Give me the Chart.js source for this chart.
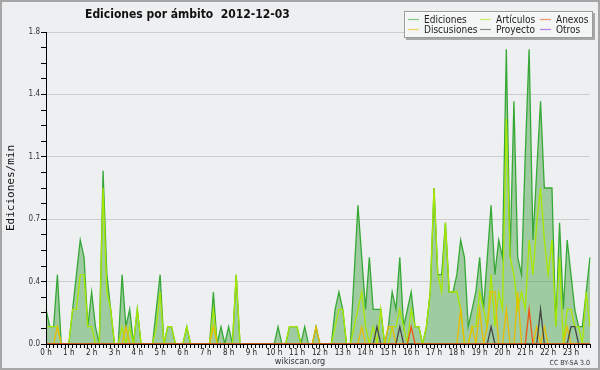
<!DOCTYPE html>
<html>
<head>
<meta charset="utf-8">
<script src="https://cdn.jsdelivr.net/npm/chart.js@4.4.1/dist/chart.umd.min.js"></script>
<style>
  html, body { margin: 0; padding: 0; background: #eeeff1; }
  #wrap { width: 600px; height: 370px; }
</style>
</head>
<body>
<div id="wrap"><canvas id="edChart" width="600" height="370"></canvas></div>
<script>
// hour tick labels, one slot every 10 minutes
const hourLabels = ['0 h','1 h','2 h','3 h','4 h','5 h','6 h','7 h','8 h','9 h','10 h','11 h',
  '12 h','13 h','14 h','15 h','16 h','17 h','18 h','19 h','20 h','21 h','22 h','23 h'];
const slotMinutes = ['00','10','20','30','40','50'];
const slots = [];
hourLabels.forEach((h, i) => slotMinutes.forEach(m => slots.push(i + ':' + m)));

const yTicks = [0, 0.09, 0.18, 0.27, 0.36, 0.45, 0.54, 0.63, 0.72, 0.81, 0.9,
  0.99, 1.08, 1.17, 1.26, 1.35, 1.44, 1.53, 1.62, 1.71, 1.8];

// edits per minute
const ediciones = [
  0.2,0.1,0.1,0.4,0,0, 0,0.2,0.4,0.6,0.5,0.1,
  0.3,0.1,0,1.0,0.4,0.2, 0,0,0.4,0.1,0.2,0,
  0.2,0,0,0,0,0.2, 0.4,0,0.1,0.1,0,0,
  0,0.1,0,0,0,0, 0,0,0.3,0,0.1,0,
  0.1,0,0.4,0,0,0, 0,0,0,0,0,0,
  0,0.1,0,0,0.1,0.1, 0.1,0,0.1,0,0,0.1,
  0,0,0,0,0.2,0.3, 0.2,0,0,0.4,0.8,0.5,
  0.2,0.5,0.2,0.2,0.2,0, 0.1,0.3,0.2,0.5,0.1,0.2,
  0.3,0.1,0.1,0,0.1,0.3, 0.9,0.4,0.4,0.7,0.3,0.3,
  0.4,0.6,0.5,0.1,0.2,0.3, 0.5,0.2,0.5,0.8,0.4,0.6,
  0.5,1.7,0.5,1.4,0.5,0.4, 1.1,1.7,0.6,1.0,1.4,0.9,
  0.9,0.9,0.1,0.7,0.2,0.6, 0.4,0.2,0.1,0.1,0.3,0.5
];
const articulos = [
  0.1,0.1,0.1,0.1,0,0, 0,0.2,0.2,0.4,0.4,0.1,
  0.1,0,0,0.9,0.3,0.2, 0,0,0.1,0,0.1,0,
  0.2,0,0,0,0,0.1, 0.3,0,0.1,0.1,0,0,
  0,0.1,0,0,0,0, 0,0,0.2,0,0,0,
  0,0,0.4,0,0,0, 0,0,0,0,0,0,
  0,0,0,0,0.1,0.1, 0.1,0,0,0,0,0,
  0,0,0,0,0.1,0.2, 0.2,0,0,0.1,0.2,0.3,
  0.1,0,0.1,0,0.2,0, 0,0.1,0.1,0.2,0.1,0,
  0.2,0.1,0.1,0,0.1,0.3, 0.9,0.4,0.3,0.7,0.3,0.3,
  0.3,0.2,0,0,0.1,0.1, 0.3,0.2,0.1,0.4,0.1,0.3,
  0.2,1.3,0.5,0.4,0.2,0.3, 0.2,0.6,0.4,0.7,0.9,0.6,
  0.4,0.6,0.1,0.5,0,0.2, 0.2,0.1,0.1,0,0.3,0.1
];
const anexos = [
  0,0,0,0,0,0, 0,0,0,0,0,0,
  0,0,0,0,0,0, 0,0,0,0,0,0,
  0,0,0,0,0,0, 0,0,0,0,0,0,
  0,0,0,0,0,0, 0,0,0,0,0,0,
  0,0,0,0,0,0, 0,0,0,0,0,0,
  0,0,0,0,0,0, 0,0,0,0,0,0,
  0,0,0,0,0,0, 0,0,0,0,0,0,
  0,0,0,0,0,0, 0,0,0,0,0,0,
  0.1,0,0,0,0,0, 0,0,0,0,0,0,
  0,0,0,0,0,0, 0,0,0,0,0,0,
  0,0,0,0,0,0, 0,0.2,0,0,0,0,
  0,0,0,0,0,0, 0,0,0,0,0,0
];
const discusiones = [
  0,0,0,0.1,0,0, 0,0,0,0,0,0,
  0,0,0,0,0,0, 0,0,0,0.1,0,0,
  0,0,0,0,0,0, 0,0,0,0,0,0,
  0,0,0,0,0,0, 0,0,0.1,0,0,0,
  0,0,0,0,0,0, 0,0,0,0,0,0,
  0,0,0,0,0,0, 0,0,0,0,0,0.1,
  0,0,0,0,0,0, 0,0,0,0,0,0.1,
  0,0,0,0,0,0, 0.1,0.1,0,0,0,0,
  0,0,0,0,0,0, 0,0,0,0,0,0,
  0,0.2,0,0,0.1,0, 0.2,0,0.1,0.3,0.3,0,
  0,0.2,0,0,0.3,0, 0,0,0,0.1,0,0.1,
  0,0,0,0,0,0.1, 0,0,0,0,0,0
];
const proyecto = [
  0,0,0,0,0,0, 0,0,0,0,0,0,
  0,0,0,0,0,0, 0,0,0,0,0,0,
  0,0,0,0,0,0, 0,0,0,0,0,0,
  0,0,0,0,0,0, 0,0,0,0,0,0,
  0,0,0,0,0,0, 0,0,0,0,0,0,
  0,0,0,0,0,0, 0,0,0,0,0,0,
  0,0,0,0,0,0, 0,0,0,0,0,0,
  0,0,0,0.1,0,0, 0,0,0,0.1,0,0,
  0,0,0,0,0,0, 0,0,0,0,0,0,
  0,0,0,0,0,0, 0,0,0,0.1,0,0,
  0,0,0,0,0,0, 0,0,0,0,0.2,0,
  0,0,0,0,0,0, 0.1,0.1,0,0,0,0
];
const otros = [
  0,0,0,0,0,0, 0,0,0,0,0,0,
  0,0,0,0,0,0, 0,0,0,0,0,0,
  0,0,0,0,0,0, 0,0,0,0,0,0,
  0,0,0,0,0,0, 0,0,0,0,0,0,
  0,0,0,0,0,0, 0,0,0,0,0,0,
  0,0,0,0,0,0, 0,0,0,0,0,0,
  0,0,0,0,0,0, 0,0,0,0,0,0,
  0,0,0,0,0,0, 0,0,0,0,0,0,
  0,0,0,0,0,0, 0,0,0,0,0,0,
  0,0,0,0,0,0, 0,0,0,0,0,0,
  0,0,0,0,0,0, 0,0,0,0,0,0,
  0,0,0,0,0,0, 0,0,0,0,0,0
];

const BG = '#eeeff1';
const COND = '"DejaVu Sans Condensed", "DejaVu Sans", sans-serif';

// ---------------- extra drawing: title, credits, legend ----------------
const decor = {
  id: 'decor',
  beforeDraw(chart) {
    const c = chart.ctx;
    c.save();
    c.fillStyle = BG;
    c.fillRect(0, 0, chart.width, chart.height);
    c.restore();
  },
  afterDraw(chart) {
    const c = chart.ctx;
    c.save();
    // title
    c.fillStyle = '#111';
    c.font = 'bold 12px ' + COND;
    c.textBaseline = 'alphabetic';
    c.fillText('Ediciones por ámbito  2012-12-03', 85, 18);
    // footer
    c.font = '9px ' + COND;
    c.fillStyle = '#333';
    c.textAlign = 'center';
    c.fillText('wikiscan.org', 300, 364);
    c.font = '7px ' + COND;
    c.textAlign = 'right';
    c.fillText('CC BY-SA 3.0', 590, 365);

    // legend box
    c.fillStyle = 'rgba(110,110,110,0.55)';
    c.fillRect(406, 13, 189, 27);
    c.fillStyle = 'rgba(255,255,255,0.88)';
    c.fillRect(404, 11, 189, 27);
    c.strokeStyle = '#9a9a9a';
    c.lineWidth = 1;
    c.strokeRect(404.5, 11.5, 188, 26);
    const spots = [[408, 19], [480, 19], [540, 19], [408, 29], [480, 29], [540, 29]];
    c.textAlign = 'left';
    c.textBaseline = 'middle';
    c.font = '10px ' + COND;
    chart.data.datasets.forEach((ds, i) => {
      const [x, y] = spots[i];
      c.globalAlpha = 0.6;
      c.strokeStyle = ds.borderColor;
      c.lineWidth = 1.2;
      c.beginPath();
      c.moveTo(x, y + 0.5);
      c.lineTo(x + 11, y + 0.5);
      c.stroke();
      c.globalAlpha = 1;
      c.fillStyle = '#222';
      c.fillText(ds.label, x + 16, y + 1);
    });
    // frame
    c.strokeStyle = '#a6a6a6';
    c.lineWidth = 2;
    c.strokeRect(1, 1, chart.width - 2, chart.height - 2);
    c.restore();
  }
};

const ctx = document.getElementById('edChart');

new Chart(ctx, {
  type: 'line',
  data: {
    labels: slots,
    datasets: [
      { label: 'Ediciones', data: ediciones, borderColor: '#36a836',
        backgroundColor: 'rgba(60,160,60,0.45)', fill: 'origin', order: 6 },
      { label: 'Artículos', data: articulos, borderColor: '#a8e800', fill: false, order: 5 },
      { label: 'Anexos', data: anexos, borderColor: '#ee5511', fill: false, order: 2 },
      { label: 'Discusiones', data: discusiones, borderColor: '#e8bc00', fill: false, order: 4 },
      { label: 'Proyecto', data: proyecto, borderColor: '#444444', fill: false, order: 3 },
      { label: 'Otros', data: otros, borderColor: '#8833dd', fill: false, order: 7 }
    ]
  },
  options: {
    responsive: false,
    animation: false,
    layout: { padding: { top: 32, right: 10, left: 0, bottom: 0 } },
    elements: {
      point: { radius: 0 },
      line: { tension: 0, borderWidth: 1.3 }
    },
    plugins: {
      legend: { display: false },
      tooltip: { enabled: false },
      title: { display: false }
    },
    scales: {
      x: {
        type: 'category',
        offset: false,
        border: { color: '#000', z: 1 },
        grid: { drawOnChartArea: false, tickLength: 4, tickColor: '#000' },
        ticks: {
          autoSkip: false, maxRotation: 0, padding: 0, color: '#222',
          font: { family: COND, size: 8 },
          callback: (v, i) => i % 6 === 0 ? hourLabels[i / 6] : ''
        },
        afterFit: s => { s.height = 26; }
      },
      y: {
        min: 0,
        max: 1.8,
        border: { color: '#000', z: 1 },
        afterBuildTicks: s => { s.ticks = yTicks.map(v => ({ value: v })); },
        grid: {
          color: c => c.index % 4 === 0 ? '#cdcdcd' : 'rgba(0,0,0,0)',
          tickColor: '#000',
          tickLength: 5
        },
        ticks: {
          color: '#333', padding: 1,
          font: { family: COND, size: 8 },
          callback: (v, i) => i % 4 === 0 ? v.toFixed(1) : ''
        },
        title: {
          display: true, text: 'Ediciones/min', color: '#111',
          font: { family: '"DejaVu Sans Mono", monospace', size: 11 },
          padding: { top: 5, bottom: 0 }
        },
        afterFit: s => { s.width = 46; }
      }
    }
  },
  plugins: [decor]
});
</script>
</body>
</html>
